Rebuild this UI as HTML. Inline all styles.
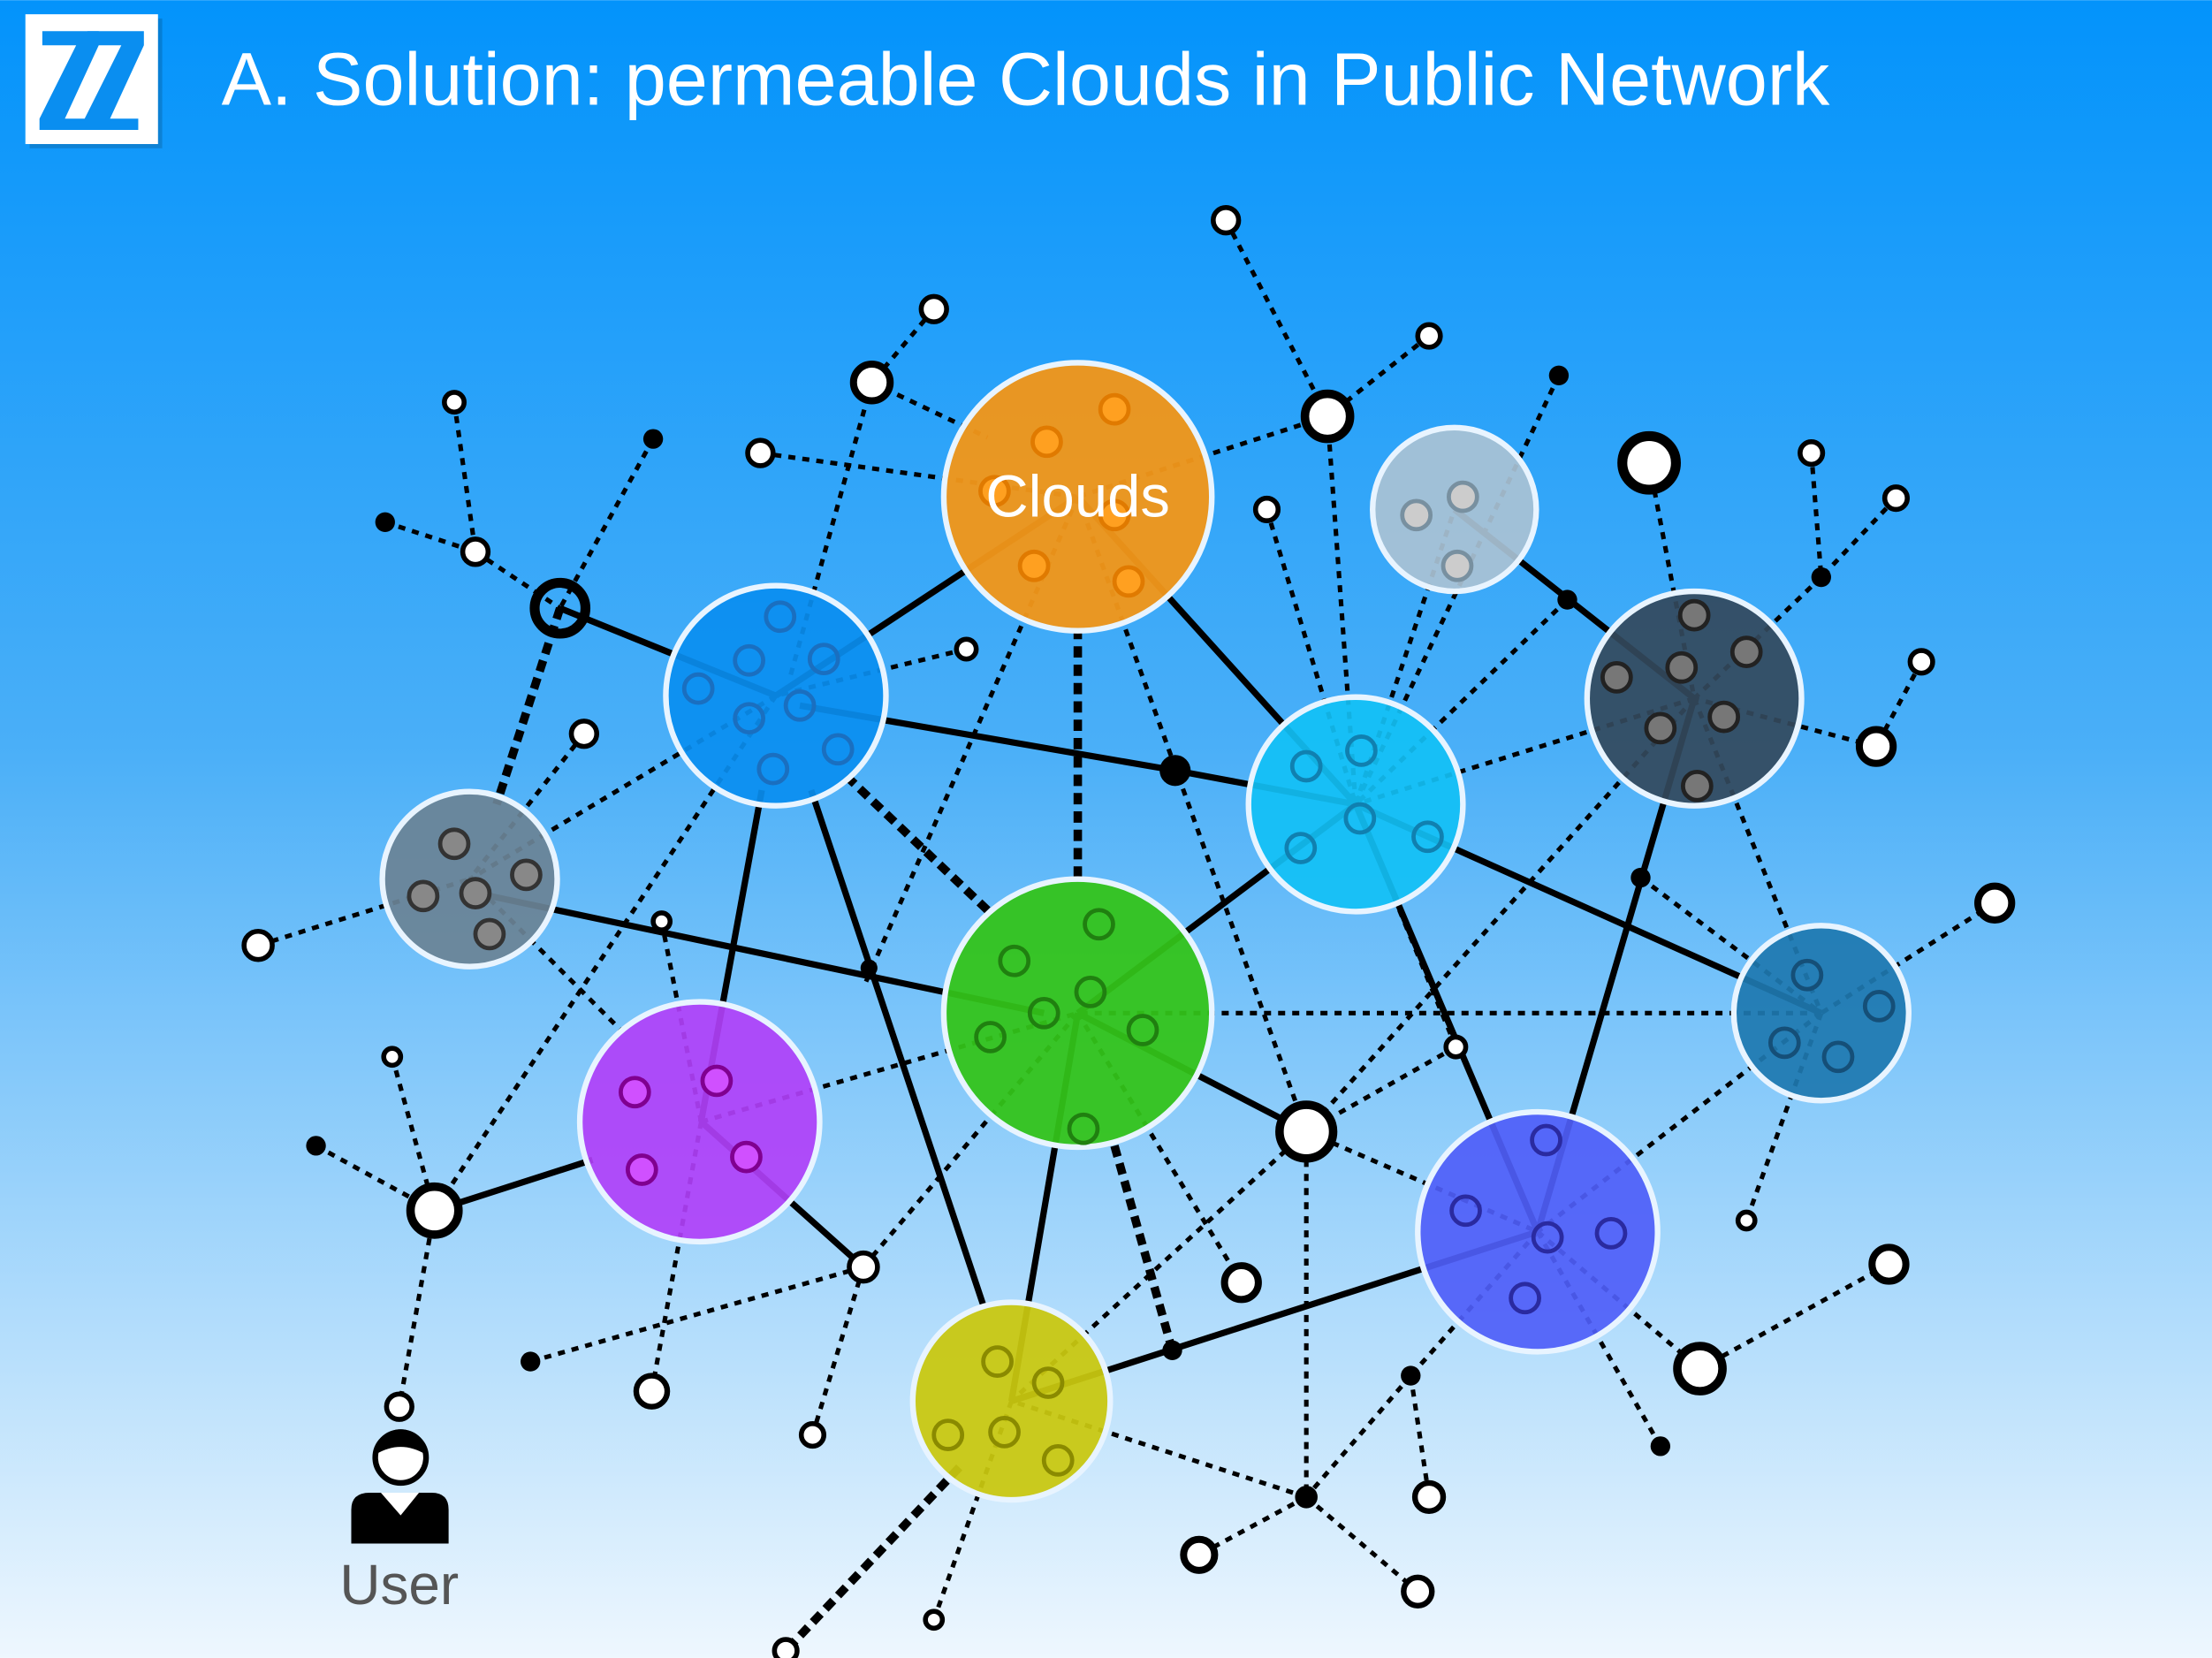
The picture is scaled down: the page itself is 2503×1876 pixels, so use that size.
<!DOCTYPE html>
<html><head><meta charset="utf-8"><style>
html,body{margin:0;padding:0;width:2503px;height:1876px;overflow:hidden}
svg{display:block}
</style></head><body>
<svg width="2503" height="1876" viewBox="0 0 1568 1175" xmlns="http://www.w3.org/2000/svg">
<defs>
<linearGradient id="bg" x1="0" y1="0" x2="0" y2="1">
<stop offset="0" stop-color="#0393fb"/>
<stop offset="0.45" stop-color="#4aaff8"/>
<stop offset="1" stop-color="#eef7fe"/>
</linearGradient>
</defs>
<rect width="1568" height="1175" fill="url(#bg)"/>
<rect x="21" y="13" width="94" height="92" fill="#000" opacity="0.15"/>
<rect x="18" y="10" width="94" height="92" fill="#fff"/>
<g fill="#0a8ef0">
<polygon points="30,22 70,22 70,32 46,84 66,84 66,92 28,92 28,84 54,32 30,32"/>
<polygon points="62,22 102,22 102,32 78,84 98,84 98,92 60,92 60,84 86,32 62,32"/>
</g>
<text x="157" y="74" font-family="Liberation Sans, sans-serif" font-size="53" fill="#fff">A. Solution: permeable Clouds in Public Network</text>

<g stroke="#000" stroke-width="3.2" stroke-dasharray="5 5" fill="none">
<line x1="869" y1="156" x2="941" y2="295"/>
<line x1="1013" y1="238" x2="941" y2="295"/>
<line x1="941" y1="295" x2="764" y2="352"/>
<line x1="941" y1="295" x2="961" y2="570"/>
<line x1="662" y1="219" x2="618" y2="271"/>
<line x1="618" y1="271" x2="700" y2="310"/>
<line x1="618" y1="271" x2="560" y2="480"/>
<line x1="539" y1="321" x2="764" y2="352"/>
<line x1="898" y1="361" x2="961" y2="570"/>
<line x1="1105" y1="266" x2="961" y2="570"/>
<line x1="1111" y1="425" x2="961" y2="570"/>
<line x1="1169" y1="328" x2="1201" y2="495"/>
<line x1="1284" y1="321" x2="1291" y2="409"/>
<line x1="1344" y1="353" x2="1291" y2="409"/>
<line x1="1291" y1="409" x2="1201" y2="495"/>
<line x1="1362" y1="469" x2="1330" y2="529"/>
<line x1="1330" y1="529" x2="1201" y2="495"/>
<line x1="1201" y1="495" x2="961" y2="570"/>
<line x1="1201" y1="495" x2="1291" y2="718"/>
<line x1="1201" y1="495" x2="926" y2="802"/>
<line x1="1163" y1="622" x2="1291" y2="718"/>
<line x1="1414" y1="640" x2="1291" y2="718"/>
<line x1="1291" y1="718" x2="764" y2="718"/>
<line x1="1291" y1="718" x2="1238" y2="865"/>
<line x1="1291" y1="718" x2="1090" y2="873"/>
<line x1="1032" y1="742" x2="926" y2="802"/>
<line x1="1032" y1="742" x2="961" y2="570"/>
<line x1="322" y1="285" x2="337" y2="391"/>
<line x1="273" y1="370" x2="337" y2="391"/>
<line x1="337" y1="391" x2="397" y2="431"/>
<line x1="463" y1="311" x2="397" y2="431"/>
<line x1="414" y1="520" x2="333" y2="623"/>
<line x1="550" y1="493" x2="333" y2="623"/>
<line x1="685" y1="460" x2="550" y2="493"/>
<line x1="183" y1="670" x2="333" y2="623"/>
<line x1="333" y1="623" x2="440" y2="730"/>
<line x1="469" y1="653" x2="497" y2="795"/>
<line x1="550" y1="493" x2="308" y2="858"/>
<line x1="764" y1="352" x2="612" y2="700"/>
<line x1="764" y1="352" x2="926" y2="802"/>
<line x1="278" y1="749" x2="308" y2="858"/>
<line x1="224" y1="812" x2="308" y2="858"/>
<line x1="308" y1="858" x2="283" y2="997"/>
<line x1="497" y1="795" x2="462" y2="986"/>
<line x1="497" y1="795" x2="764" y2="718"/>
<line x1="612" y1="898" x2="376" y2="965"/>
<line x1="612" y1="898" x2="576" y2="1017"/>
<line x1="612" y1="898" x2="764" y2="718"/>
<line x1="764" y1="718" x2="880" y2="909"/>
<line x1="764" y1="718" x2="717" y2="993"/>
<line x1="926" y1="802" x2="717" y2="993"/>
<line x1="926" y1="802" x2="926" y2="1061"/>
<line x1="926" y1="802" x2="1090" y2="873"/>
<line x1="1090" y1="873" x2="1205" y2="970"/>
<line x1="1090" y1="873" x2="1177" y2="1025"/>
<line x1="1339" y1="896" x2="1205" y2="970"/>
<line x1="1090" y1="873" x2="1000" y2="975"/>
<line x1="1000" y1="975" x2="1013" y2="1061"/>
<line x1="1000" y1="975" x2="926" y2="1061"/>
<line x1="926" y1="1061" x2="850" y2="1102"/>
<line x1="926" y1="1061" x2="1005" y2="1128"/>
<line x1="926" y1="1061" x2="717" y2="993"/>
<line x1="717" y1="993" x2="662" y2="1148"/>
<line x1="961" y1="570" x2="1031" y2="361"/>
</g>
<g stroke="#000" stroke-width="6" stroke-dasharray="8 5" fill="none">
<line x1="397" y1="431" x2="352" y2="570"/>
<line x1="764" y1="445" x2="764" y2="625"/>
<line x1="600" y1="550" x2="700" y2="645"/>
<line x1="790" y1="812" x2="831" y2="957"/>
<line x1="680" y1="1040" x2="557" y2="1170"/>
</g>
<g stroke="#000" stroke-width="4.5" fill="none">
<line x1="397" y1="431" x2="550" y2="493"/>
<line x1="550" y1="493" x2="764" y2="352"/>
<line x1="567" y1="500" x2="833" y2="546"/>
<line x1="833" y1="546" x2="961" y2="570"/>
<line x1="764" y1="352" x2="961" y2="570"/>
<line x1="338" y1="633" x2="740" y2="718"/>
<line x1="540" y1="560" x2="497" y2="795"/>
<line x1="575" y1="560" x2="697" y2="925"/>
<line x1="497" y1="795" x2="612" y2="898"/>
<line x1="308" y1="858" x2="420" y2="822"/>
<line x1="764" y1="718" x2="926" y2="802"/>
<line x1="764" y1="718" x2="961" y2="570"/>
<line x1="717" y1="993" x2="764" y2="718"/>
<line x1="717" y1="993" x2="1090" y2="873"/>
<line x1="961" y1="570" x2="1291" y2="718"/>
<line x1="961" y1="570" x2="1090" y2="873"/>
<line x1="1090" y1="873" x2="1201" y2="495"/>
<line x1="1201" y1="495" x2="1031" y2="361"/>
</g>

<g stroke="#e8f4ff" stroke-width="4">
<circle cx="764" cy="352" r="95" fill="#f0961a" fill-opacity="0.96"/>
<circle cx="550" cy="493" r="78" fill="#0a8ef0" fill-opacity="0.92"/>
<circle cx="333" cy="623" r="62" fill="#6a8396" fill-opacity="0.93"/>
<circle cx="496" cy="795" r="85" fill="#b040f8" fill-opacity="0.92"/>
<circle cx="764" cy="718" r="95" fill="#33c31a" fill-opacity="0.94"/>
<circle cx="961" cy="570" r="76" fill="#12c0f5" fill-opacity="0.92"/>
<circle cx="1031" cy="361" r="58" fill="#a9c2d4" fill-opacity="0.93"/>
<circle cx="1201" cy="495" r="76" fill="#33495c" fill-opacity="0.92"/>
<circle cx="1291" cy="718" r="62" fill="#1e78b0" fill-opacity="0.92"/>
<circle cx="1090" cy="873" r="85" fill="#4f5ef8" fill-opacity="0.92"/>
<circle cx="717" cy="993" r="70" fill="#c9c810" fill-opacity="0.94"/>
</g>
<g stroke-width="3">
<g fill="#ffa020" stroke="#e07a00"><circle cx="790" cy="290" r="10"/><circle cx="742" cy="313" r="10"/><circle cx="705" cy="348" r="10"/><circle cx="733" cy="401" r="10"/><circle cx="800" cy="412" r="10"/><circle cx="790" cy="365" r="10"/></g>
<g fill="none" stroke="#1a6fc0"><circle cx="553" cy="437" r="10"/><circle cx="584" cy="467" r="10"/><circle cx="531" cy="468" r="10"/><circle cx="495" cy="488" r="10"/><circle cx="531" cy="509" r="10"/><circle cx="567" cy="500" r="10"/><circle cx="594" cy="531" r="10"/><circle cx="548" cy="545" r="10"/></g>
<g fill="#888" stroke="#333"><circle cx="322" cy="598" r="10"/><circle cx="373" cy="620" r="10"/><circle cx="300" cy="635" r="10"/><circle cx="337" cy="633" r="10"/><circle cx="347" cy="662" r="10"/></g>
<g fill="#d050ff" stroke="#800090"><circle cx="508" cy="766" r="10"/><circle cx="450" cy="774" r="10"/><circle cx="455" cy="829" r="10"/><circle cx="529" cy="820" r="10"/></g>
<g fill="none" stroke="#208010"><circle cx="779" cy="655" r="10"/><circle cx="719" cy="681" r="10"/><circle cx="773" cy="703" r="10"/><circle cx="740" cy="718" r="10"/><circle cx="702" cy="735" r="10"/><circle cx="810" cy="730" r="10"/><circle cx="768" cy="800" r="10"/></g>
<g fill="none" stroke="#1080b0"><circle cx="965" cy="532" r="10"/><circle cx="926" cy="543" r="10"/><circle cx="964" cy="580" r="10"/><circle cx="922" cy="601" r="10"/><circle cx="1012" cy="593" r="10"/></g>
<g fill="#ccc" stroke="#7890a0"><circle cx="1037" cy="352" r="10"/><circle cx="1004" cy="365" r="10"/><circle cx="1033" cy="401" r="10"/></g>
<g fill="#777" stroke="#222"><circle cx="1201" cy="436" r="10"/><circle cx="1238" cy="462" r="10"/><circle cx="1146" cy="480" r="10"/><circle cx="1192" cy="473" r="10"/><circle cx="1177" cy="516" r="10"/><circle cx="1222" cy="508" r="10"/><circle cx="1203" cy="557" r="10"/></g>
<g fill="none" stroke="#154f78"><circle cx="1281" cy="691" r="10"/><circle cx="1332" cy="713" r="10"/><circle cx="1265" cy="739" r="10"/><circle cx="1303" cy="749" r="10"/></g>
<g fill="none" stroke="#2a2aa0"><circle cx="1096" cy="808" r="10"/><circle cx="1039" cy="858" r="10"/><circle cx="1097" cy="877" r="10"/><circle cx="1142" cy="874" r="10"/><circle cx="1081" cy="920" r="10"/></g>
<g fill="none" stroke="#8a8a00"><circle cx="707" cy="965" r="10"/><circle cx="743" cy="980" r="10"/><circle cx="672" cy="1017" r="10"/><circle cx="712" cy="1015" r="10"/><circle cx="750" cy="1035" r="10"/></g>
</g>
<text x="764" y="366" text-anchor="middle" font-family="Liberation Sans, sans-serif" font-size="42" fill="#fff">Clouds</text>

<g fill="#fff" stroke="#000" stroke-width="3.5">
<circle cx="869" cy="156" r="9"/><circle cx="662" cy="219" r="9"/><circle cx="618" cy="271" r="13" stroke-width="5"/>
<circle cx="1013" cy="238" r="8"/><circle cx="941" cy="295" r="16" stroke-width="6"/><circle cx="539" cy="321" r="9"/>
<circle cx="898" cy="361" r="8"/><circle cx="1169" cy="328" r="19" stroke-width="7"/><circle cx="1284" cy="321" r="8"/>
<circle cx="1344" cy="353" r="8"/><circle cx="1362" cy="469" r="8"/><circle cx="1330" cy="529" r="12" stroke-width="5"/>
<circle cx="322" cy="285" r="7"/><circle cx="337" cy="391" r="9"/><circle cx="397" cy="431" r="18" stroke-width="7" fill="none"/>
<circle cx="414" cy="520" r="9"/><circle cx="685" cy="460" r="7"/><circle cx="183" cy="670" r="10"/>
<circle cx="469" cy="653" r="6"/><circle cx="1414" cy="640" r="12" stroke-width="5"/><circle cx="1032" cy="742" r="7"/>
<circle cx="926" cy="802" r="19" stroke-width="6"/><circle cx="278" cy="749" r="6"/><circle cx="308" cy="858" r="17" stroke-width="6"/>
<circle cx="612" cy="898" r="10"/><circle cx="880" cy="909" r="12" stroke-width="5"/><circle cx="1339" cy="896" r="12" stroke-width="5"/>
<circle cx="1238" cy="865" r="6"/><circle cx="1205" cy="970" r="16" stroke-width="6"/><circle cx="462" cy="986" r="11" stroke-width="4"/>
<circle cx="576" cy="1017" r="8"/><circle cx="283" cy="997" r="9"/><circle cx="1013" cy="1061" r="10" stroke-width="4"/>
<circle cx="850" cy="1102" r="11" stroke-width="5"/><circle cx="1005" cy="1128" r="10" stroke-width="4"/><circle cx="662" cy="1148" r="6"/>
<circle cx="557" cy="1170" r="8"/>
</g>
<g fill="#000">
<circle cx="1105" cy="266" r="7"/><circle cx="1291" cy="409" r="7"/><circle cx="463" cy="311" r="7"/>
<circle cx="273" cy="370" r="7"/><circle cx="616" cy="686" r="6"/><circle cx="833" cy="546" r="11"/>
<circle cx="1111" cy="425" r="7"/><circle cx="1163" cy="622" r="7"/><circle cx="224" cy="812" r="7"/>
<circle cx="831" cy="957" r="7"/><circle cx="1000" cy="975" r="7"/><circle cx="1177" cy="1025" r="7"/>
<circle cx="376" cy="965" r="7"/><circle cx="926" cy="1061" r="8"/>
</g>

<path d="M249,1070 Q249,1058 262,1058 L306,1058 Q318,1058 318,1070 L318,1094 L249,1094 Z" fill="#000"/>
<polygon points="270,1058 297,1058 284,1074" fill="#fff"/>
<circle cx="284" cy="1033" r="18" fill="#fff" stroke="#000" stroke-width="4"/>
<path d="M266,1031 A18,18 0 0 1 302,1031 Q284,1020 266,1031 Z" fill="#000"/>
<text x="283" y="1137" text-anchor="middle" font-family="Liberation Sans, sans-serif" font-size="40" fill="#555">User</text>
</svg>
</body></html>
